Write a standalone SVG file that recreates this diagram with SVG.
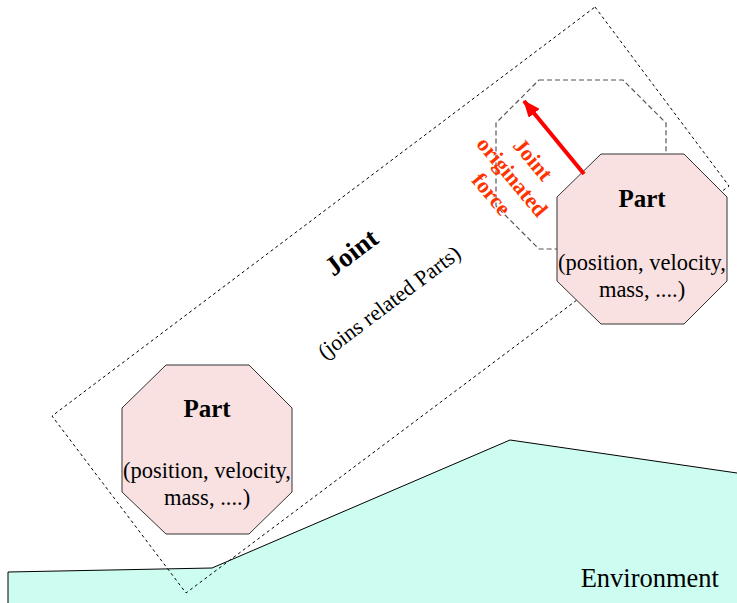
<svg xmlns="http://www.w3.org/2000/svg" width="737" height="603" viewBox="0 0 737 603">
  <style>
    .part { fill: #f9e1e1; stroke: #333333; stroke-width: 1; }
    .serif { font-family: "Liberation Serif", "Times New Roman", serif; fill: #000000; }
    .title { font-weight: bold; font-size: 25px; }
    .body { font-size: 22.5px; }
    .force { font-family: "Liberation Serif", "Times New Roman", serif; font-weight: bold; font-size: 22px; fill: #ff3300; }
    .joint-box { fill: none; stroke: #000000; stroke-width: 1; stroke-dasharray: 3 3; }
    .ghost { fill: none; stroke: #555555; stroke-width: 1.2; stroke-dasharray: 5 3; }
  </style>
  <defs>
    <marker id="arrowhead" markerUnits="userSpaceOnUse" markerWidth="18" markerHeight="14" refX="16" refY="7" orient="auto">
      <polygon points="0,0 17,7 0,14" fill="#ff0000"/>
    </marker>
  </defs>
  <rect x="0" y="0" width="737" height="603" fill="#ffffff"/>

  <g id="environment">
    <polygon points="8,603 8,572 212,568 510,440 737,473 737,603" fill="#ccfdf0" stroke="none"/>
    <polyline points="8,603 8,572 212,568 510,440 737,473" fill="none" stroke="#000000" stroke-width="1"/>
    <text class="serif" x="719" y="587" font-size="26.5" text-anchor="end">Environment</text>
  </g>

  <g id="joint">
    <polygon class="joint-box" points="595,7 729,186 186,593 52,416"/>
    <g transform="translate(370,277) rotate(-37)">
      <text class="serif" font-weight="bold" font-size="27" x="0" y="-22" text-anchor="middle">Joint</text>
      <text class="serif" font-size="22" x="0" y="39" text-anchor="middle">(joins related Parts)</text>
    </g>
  </g>

  <g id="part-ghost">
    <polygon class="ghost" points="539,80 623,80 666,123 666,206 623,249 539,249 496,206 496,123"/>
  </g>

  <g id="part-lower">
    <polygon class="part" points="166,365 249,365 292,408 292,492 249,534 166,534 122,492 122,408"/>
    <text class="serif title" x="207" y="417" text-anchor="middle">Part</text>
    <text class="serif body" x="207" y="478" text-anchor="middle">(position, velocity,</text>
    <text class="serif body" x="207" y="505" text-anchor="middle">mass, ....)</text>
  </g>

  <g id="part-upper">
    <polygon class="part" points="601,154 684,154 727,197 727,281 684,324 601,324 557,281 557,197"/>
    <text class="serif title" x="642" y="207" text-anchor="middle">Part</text>
    <text class="serif body" x="642" y="270" text-anchor="middle">(position, velocity,</text>
    <text class="serif body" x="642" y="297" text-anchor="middle">mass, ....)</text>
  </g>

  <g id="connectors">
    <line x1="584" y1="174" x2="524" y2="101" stroke="#ff0000" stroke-width="4" marker-end="url(#arrowhead)"/>
  </g>

  <g id="force-label" transform="translate(512,177) rotate(50)">
    <text class="force" x="0" y="-20" text-anchor="middle">Joint</text>
    <text class="force" x="0" y="7" text-anchor="middle">originated</text>
    <text class="force" x="0" y="34" text-anchor="middle">force</text>
  </g>
</svg>
